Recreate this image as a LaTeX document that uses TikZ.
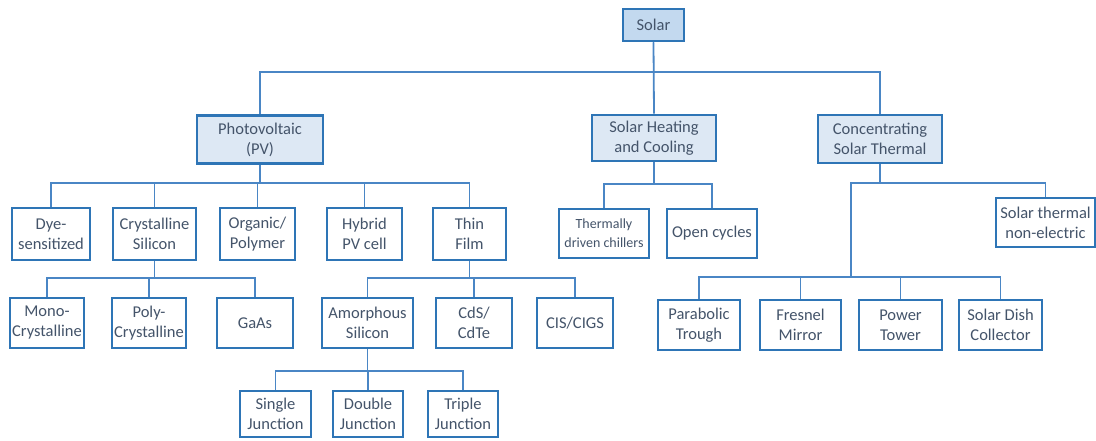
\documentclass[tikz,border=0pt]{standalone}
\usepackage{fontspec}
\setmainfont{Carlito}
\definecolor{boxline}{HTML}{2E75B6}
\definecolor{linkline}{HTML}{4A86C5}
\definecolor{txt}{HTML}{44546A}
\definecolor{topfill}{HTML}{DDE8F4}
\definecolor{rootfill}{HTML}{C3D9EF}
\begin{document}
\begin{tikzpicture}[x=1pt,y=-1pt,
  item/.style={draw=boxline,line width=2.6pt,fill=white,text=txt,align=center,
    inner sep=0pt,font=\fontsize{16.5}{20}\selectfont,minimum height=50pt},
  topitem/.style={item,fill=topfill,minimum height=48pt},
  rootitem/.style={item,fill=rootfill,minimum height=32pt},
  link/.style={draw=linkline,line width=1.8pt}]
\useasboundingbox (0,0) rectangle (1096,441);

% root
\node[rootitem,minimum width=61pt] (solar) at (653.5,25) {Solar};

% first level
\node[topitem,minimum width=126pt] (pv) at (260,139.5) {Photovoltaic\\(PV)};
\node[topitem,minimum width=124pt,minimum height=46pt] (heat) at (654,138) {Solar Heating\\and Cooling};
\node[topitem,minimum width=124pt] (csp) at (880,139) {Concentrating\\Solar Thermal};

% photovoltaic branch
\node[item,minimum width=78pt,minimum height=52pt] (dye) at (51,234) {Dye-\\sensitized};
\node[item,minimum width=83pt,minimum height=52pt] (cry) at (154.5,234) {Crystalline\\Silicon};
\node[item,minimum width=75pt,minimum height=52pt] (org) at (257.5,234) {Organic/\\Polymer};
\node[item,minimum width=75pt,minimum height=52pt] (hyb) at (364.5,234) {Hybrid\\PV cell};
\node[item,minimum width=73pt,minimum height=52pt] (thin) at (469.5,234) {Thin\\Film};

% heating and cooling branch
\node[item,minimum width=90pt,minimum height=49pt,font=\fontsize{14}{19}\selectfont] (therm) at (604,233.5) {Thermally\\driven chillers};
\node[item,minimum width=90pt,minimum height=49pt] (open) at (712,233.5) {Open cycles};

% concentrating branch
\node[item,minimum width=99pt,minimum height=49pt] (ste) at (1045.5,222.5) {Solar thermal\\non-electric};

% crystalline silicon
\node[item,minimum width=74pt] (mono) at (47,323) {Mono-\\Crystalline};
\node[item,minimum width=74pt] (poly) at (149,323) {Poly-\\Crystalline};
\node[item,minimum width=76pt] (gaas) at (255,323) {GaAs};

% thin film
\node[item,minimum width=91pt] (amor) at (367.5,323) {Amorphous\\Silicon};
\node[item,minimum width=76pt] (cds) at (474,323) {CdS/\\CdTe};
\node[item,minimum width=76pt] (cis) at (575,323) {CIS/CIGS};

% concentrating technologies
\node[item,minimum width=82pt] (para) at (699,325) {Parabolic\\Trough};
\node[item,minimum width=81pt] (fres) at (800.5,325) {Fresnel\\Mirror};
\node[item,minimum width=83pt] (power) at (900.5,325) {Power\\Tower};
\node[item,minimum width=83pt] (dish) at (1000.5,325) {Solar Dish\\Collector};

% amorphous silicon
\node[item,minimum width=71pt,minimum height=46pt] (single) at (275.5,414) {Single\\Junction};
\node[item,minimum width=70pt,minimum height=46pt] (double) at (368,414) {Double\\Junction};
\node[item,minimum width=70pt,minimum height=46pt] (triple) at (463,414) {Triple\\Junction};

% junction where the concentrating bus splits
\coordinate (cspj) at (851,277);

% connectors
\path[link] (solar.south) -- ++(0,30) -| (pv.north);
\path[link] (solar.south) -- ++(0,30) -| (csp.north);
\path[link] (solar.south) -- (heat.north);

\foreach \c in {dye,cry,org,hyb,thin}
  \path[link] (pv.south) -- ++(0,18) -| (\c.north);
\foreach \c in {therm,open}
  \path[link] (heat.south) -- ++(0,22) -| (\c.north);
\path[link] (csp.south) -- ++(0,19) -| (ste.north);
\path[link] (csp.south) -- ++(0,19) -| (cspj);
\foreach \c in {para,fres,power,dish}
  \path[link] (cspj) -| (\c.north);

\foreach \c in {mono,poly,gaas}
  \path[link] (cry.south) -- ++(0,17) -| (\c.north);
\foreach \c in {amor,cds,cis}
  \path[link] (thin.south) -- ++(0,17) -| (\c.north);
\foreach \c in {single,double,triple}
  \path[link] (amor.south) -- ++(0,22) -| (\c.north);
\end{tikzpicture}
\end{document}
